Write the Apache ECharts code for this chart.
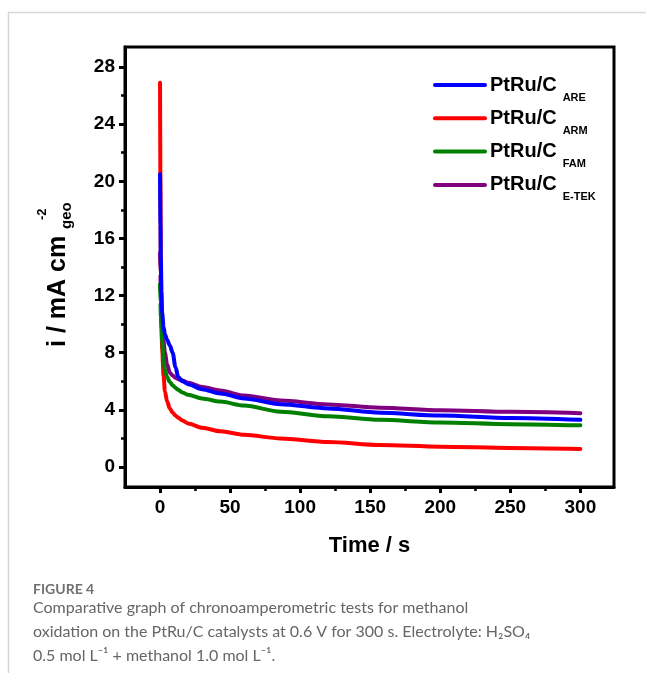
<!DOCTYPE html>
<html>
<head>
<meta charset="utf-8">
<title>Chronoamperometry PtRu/C</title>
<script src="https://cdn.jsdelivr.net/npm/echarts@6/dist/echarts.min.js"></script>
<style>
  html, body { margin: 0; padding: 0; background: #ffffff; }
  #chart { width: 646px; height: 684px; }
</style>
</head>
<body>
<div id="chart"></div>
<script>
// Time axis of the chronoamperometric runs (s)
const timeS = [0, 0.3, 0.6, 1, 1.5, 2.5, 3.5, 5, 7, 9, 11, 13, 16, 20, 30, 43, 60, 86, 120, 157, 200, 250, 300];

// Current density, mA cm^-2 (geometric area)
const iARE  = [20.5, 17, 14.5, 12.3, 10.8, 9.8, 9.3, 8.9, 8.5, 8.0, 7.0, 6.3, 6.0, 5.8, 5.45, 5.15, 4.8, 4.4, 4.1, 3.8, 3.6, 3.43, 3.3];
const iARM  = [26.9, 20, 14, 10.5, 8.3, 6.4, 5.3, 4.6, 4.1, 3.8, 3.6, 3.45, 3.25, 3.05, 2.75, 2.5, 2.25, 2.0, 1.75, 1.54, 1.42, 1.33, 1.26];
const iFAM  = [12.8, 11.5, 10.5, 9.7, 8.8, 7.5, 6.8, 6.3, 5.95, 5.72, 5.55, 5.4, 5.22, 5.05, 4.8, 4.58, 4.3, 3.87, 3.55, 3.3, 3.12, 3.0, 2.92];
const iETEK = [15, 13.5, 12, 10.8, 9.8, 8.8, 8.0, 7.2, 6.6, 6.4, 6.25, 6.15, 6.05, 5.9, 5.6, 5.35, 5.0, 4.65, 4.38, 4.15, 3.98, 3.86, 3.77];

// Catalyst subscripts shown in the legend
const catalysts = ['ARE', 'ARM', 'FAM', 'E-TEK'];

// Tick positions
const xMajor = [0, 50, 100, 150, 200, 250, 300];
const xMinor = [25, 75, 125, 175, 225, 275];
const yMajor = [0, 4, 8, 12, 16, 20, 24, 28];
const yMinor = [2, 6, 10, 14, 18, 22, 26];

const X_MIN = -25, X_MAX = 324;
const Y_MIN = -1.4, Y_MAX = 29.4;

const FONT = 'Arial, "Liberation Sans", sans-serif';
const CAPTION_FONT = 'Lato, "Open Sans", sans-serif';

const pairs = (ys) => timeS.map((t, k) => [t, ys[k]]);

function lineSeries(name, ys, color) {
  return {
    name: name,
    type: 'line',
    data: pairs(ys),
    xAxisIndex: 0,
    yAxisIndex: 0,
    showSymbol: false,
    symbol: 'none',
    smooth: 0.3,
    smoothMonotone: 'x',
    lineStyle: { color: color, width: 4, cap: 'round', join: 'round' },
    itemStyle: { color: color },
    emphasis: { disabled: true },
    animation: false
  };
}

const axisBlack = { color: '#000', width: 3 };

const chart = echarts.init(document.getElementById('chart'), null, { renderer: 'canvas' });

chart.setOption({
  backgroundColor: '#ffffff',
  animation: false,
  grid: {
    left: 125, top: 47, right: 32, bottom: 197,
    containLabel: false,
    outerBoundsMode: 'none',
    show: true,
    borderColor: '#000',
    borderWidth: 3,
    backgroundColor: 'transparent'
  },
  xAxis: [
    {
      type: 'value', min: X_MIN, max: X_MAX, position: 'bottom',
      axisLine: { show: true, onZero: false, lineStyle: axisBlack },
      axisTick: { show: true, inside: false, length: 6, customValues: xMajor, lineStyle: axisBlack },
      axisLabel: {
        show: true, customValues: xMajor, margin: 11,
        color: '#000', fontSize: 19, fontWeight: 'bold', fontFamily: FONT
      },
      splitLine: { show: false },
      name: 'Time / s', nameLocation: 'middle', nameGap: 48,
      nameTextStyle: { color: '#000', fontSize: 22, fontWeight: 'bold', fontFamily: FONT }
    },
    {
      type: 'value', min: X_MIN, max: X_MAX, position: 'bottom',
      axisLine: { show: false, onZero: false },
      axisTick: { show: true, inside: false, length: 4, customValues: xMinor, lineStyle: { color: '#000', width: 2.5 } },
      axisLabel: { show: false },
      splitLine: { show: false }
    }
  ],
  yAxis: [
    {
      type: 'value', min: Y_MIN, max: Y_MAX, position: 'left',
      axisLine: { show: true, onZero: false, lineStyle: axisBlack },
      axisTick: { show: true, inside: false, length: 6, customValues: yMajor, lineStyle: axisBlack },
      axisLabel: {
        show: true, customValues: yMajor, margin: 10,
        color: '#000', fontSize: 19, fontWeight: 'bold', fontFamily: FONT
      },
      splitLine: { show: false }
    },
    {
      type: 'value', min: Y_MIN, max: Y_MAX, position: 'left', offset: 0,
      axisLine: { show: false, onZero: false },
      axisTick: { show: true, inside: false, length: 4, customValues: yMinor, lineStyle: { color: '#000', width: 2.5 } },
      axisLabel: { show: false },
      splitLine: { show: false }
    }
  ],
  legend: {
    orient: 'vertical',
    left: 433, top: 75,
    padding: 0,
    itemWidth: 50, itemHeight: 14, itemGap: 5.3,
    selectedMode: false,
    data: catalysts,
    formatter: (n) => '{m|PtRu/C}{s|' + n + '}',
    itemStyle: { opacity: 0, borderWidth: 0 },
    lineStyle: { width: 4, cap: 'round' },
    textStyle: {
      color: '#000',
      rich: {
        m: { fontSize: 20, fontWeight: 'bold', fontFamily: FONT, color: '#000', lineHeight: 36 },
        s: { fontSize: 11, fontWeight: 'bold', fontFamily: FONT, color: '#000', verticalAlign: 'bottom', padding: [0, 0, 0, 6] }
      }
    }
  },
  series: [
    lineSeries('ARM', iARM, '#ff0000'),
    lineSeries('E-TEK', iETEK, '#800080'),
    lineSeries('FAM', iFAM, '#008000'),
    lineSeries('ARE', iARE, '#0000ff')
  ],
  graphic: [
    // figure frame
    { type: 'line', silent: true, shape: { x1: 8, y1: 12.5, x2: 646, y2: 12.5 }, style: { stroke: '#d6d6d6', lineWidth: 1.5 } },
    { type: 'line', silent: true, shape: { x1: 8.5, y1: 12, x2: 8.5, y2: 673 }, style: { stroke: '#d6d6d6', lineWidth: 1.5 } },
    // y-axis title, read bottom to top
    {
      type: 'group', x: 58, y: 347, rotation: Math.PI / 2, silent: true,
      children: [
        { type: 'text', x: 0, y: 0, style: { text: 'i / mA cm', fontSize: 25, fontWeight: 'bold', fontFamily: FONT, fill: '#000', align: 'left', verticalAlign: 'middle' } },
        { type: 'text', x: 118, y: 9, style: { text: 'geo', fontSize: 15, fontWeight: 'bold', fontFamily: FONT, fill: '#000', align: 'left', verticalAlign: 'middle' } },
        { type: 'text', x: 127, y: -16, style: { text: '-2', fontSize: 13, fontWeight: 'bold', fontFamily: FONT, fill: '#000', align: 'left', verticalAlign: 'middle' } }
      ]
    },
    // caption
    { type: 'text', left: 33, top: 582, silent: true, style: { text: 'FIGURE 4', fontSize: 14, fontWeight: 'bold', fontFamily: CAPTION_FONT, fill: '#707070' } },
    { type: 'text', left: 33, top: 600, silent: true, style: { text: 'Comparative graph of chronoamperometric tests for methanol', fontSize: 16, fontFamily: CAPTION_FONT, fill: '#666666' } },
    { type: 'text', left: 33, top: 624, silent: true, style: { text: 'oxidation on the PtRu/C catalysts at 0.6 V for 300 s. Electrolyte: H\u2082SO\u2084', fontSize: 16, fontFamily: CAPTION_FONT, fill: '#666666' } },
    { type: 'text', left: 33, top: 648, silent: true, style: { text: '0.5 mol L\u207B\u00B9 + methanol 1.0 mol L\u207B\u00B9.', fontSize: 16, fontFamily: CAPTION_FONT, fill: '#666666' } }
  ]
});
</script>
</body>
</html>
